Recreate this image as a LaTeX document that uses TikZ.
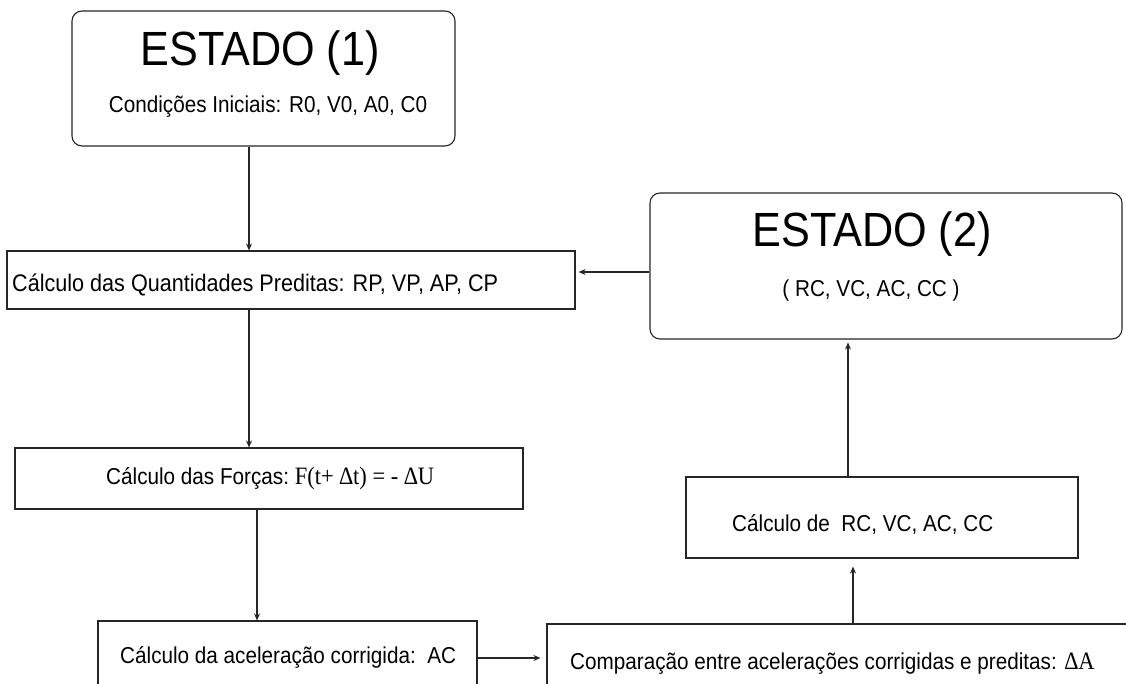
\documentclass[tikz,border=0pt]{standalone}
\usepackage{fontspec}
\setmainfont{Liberation Sans}[FakeStretch=0.9]
\newfontfamily\symfont{Liberation Serif}[FakeStretch=0.9]
\usetikzlibrary{arrows.meta}

\begin{document}
\begin{tikzpicture}[x=1pt,y=-1pt,
    box/.style={draw=black!85,line width=1.1pt,inner sep=0pt},
    rbox/.style={box,rounded corners=10pt},
    txt/.style={inner sep=0pt,font=\fontsize{23}{26}\selectfont},
    big/.style={inner sep=0pt,font=\fontsize{48}{52}\selectfont},
    arr/.style={draw=black!85,line width=1.1pt,-{Stealth[length=7pt,width=6pt]}}]
	    \useasboundingbox (0,0) rectangle (1126,684);
	    \clip (0,0) rectangle (1126,684);
	    \node[rbox,minimum width=383pt,minimum height=135pt] (est1) at (263.5,78.5) {};
	    \node[box,minimum width=568pt,minimum height=58pt] (pred) at (291,280) {};
	    \node[box,minimum width=508pt,minimum height=61pt] (forc) at (269,478.5) {};
	    \node[box,minimum width=379pt,minimum height=74pt] (acel) at (287.5,658) {};
	    \node[box,minimum width=593pt,minimum height=76pt] (comp) at (843.5,662) {};
	    \node[box,minimum width=392pt,minimum height=81pt] (corr) at (882,517.5) {};
	    \node[rbox,minimum width=472pt,minimum height=146pt] (est2) at (886,266) {};
	    \node[big,anchor=base] (est1t) at (260,66) {ESTADO (1)};
	    \node[txt,anchor=base] (est1c) at (268,113) {Condições Iniciais: R0, V0, A0, C0};
	    \node[txt,anchor=base west,font=\fontsize{24}{27}\selectfont] (predt) at (12,292) {Cálculo das Quantidades Preditas: RP, VP, AP, CP};
	    \node[txt,anchor=base west] (forct) at (106,484) {Cálculo das Forças:\ {\symfont\fontsize{25}{28}\selectfont F(t+ ∆t) = - ∆U}};
	    \node[txt,anchor=base west] (acelt) at (120,663) {Cálculo da aceleração corrigida:\ \ AC};
	    \node[txt,anchor=base west] (compt) at (570,669) {Comparação entre acelerações corrigidas e preditas: {\symfont\fontsize{25}{28}\selectfont ∆A}};
	    \node[txt,anchor=base west] (corrt) at (732,531) {Cálculo de\ \ RC, VC, AC, CC};
	    \node[big,anchor=base] (est2t) at (872,247) {ESTADO (2)};
	    \node[txt,anchor=base] (est2c) at (871,297) {( RC, VC, AC, CC )};
	    \draw[arr] ([xshift=-14.5pt]est1.south) -- ([xshift=-42pt]pred.north);
	    \draw[arr] ([xshift=-42pt]pred.south) -- ([xshift=-20pt]forc.north);
	    \draw[arr] ([xshift=-30.5pt]acel.north |- forc.south) -- ([xshift=-30.5pt]acel.north);
	    \draw[arr,shorten >=6pt] (acel.east) -- (acel.east -| comp.west);
	    \draw[arr,shorten >=8pt] ([xshift=9.5pt]comp.north) -- ([xshift=9.5pt]comp.north |- corr.south);
	    \draw[arr,shorten >=3pt] ([xshift=-34pt]corr.north) -- ([xshift=-34pt]corr.north |- est2.south);
	    \draw[arr,shorten >=3pt] ([yshift=-6pt]est2.west) -- ([yshift=-6pt]est2.west -| pred.east);
	\end{tikzpicture}
\end{document}
